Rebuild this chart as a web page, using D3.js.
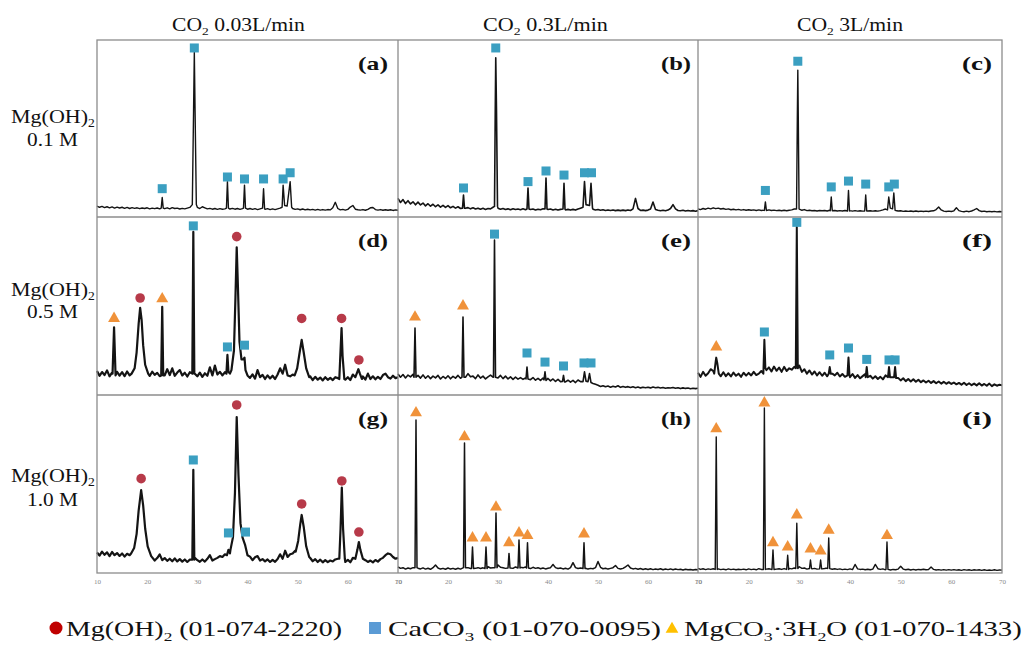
<!DOCTYPE html>
<html>
<head>
<meta charset="utf-8">
<script src="https://cdn.jsdelivr.net/npm/d3@7"></script>
<style>
body { margin: 0; background: #fff; }
svg text { font-family: "Liberation Serif", "Times New Roman", Times, serif; }
</style>
</head>
<body>
<svg id="chart" width="1027" height="645"></svg>
<script>
// ---- labels ----
const colTitles = ["0.03L/min", "0.3L/min", "3L/min"];
const rowConc = ["0.1 M", "0.5 M", "1.0 M"];
const panelTags = ["(a)", "(b)", "(c)", "(d)", "(e)", "(f)", "(g)", "(h)", "(i)"];
const xTicks = [10, 20, 30, 40, 50, 60, 70];
const legendCodes = ["(01-074-2220)", "(01-070-0095)", "(01-070-1433)"];

// ---- background traces: intensity (% of panel height) every 0.5 deg from 10 to 70 ----
const bgStart = 10, bgStep = 0.5;
const bgA = [6.2,5.5,6.0,5.3,5.8,5.2,5.7,5.0,5.6,5.1, 5.5,4.9,5.4,4.8,5.3,4.9,5.2,4.7,5.1,4.8,
  5.2,4.6,5.0,4.7,5.1,4.6,5.0,4.7,5.2,4.6, 5.3,4.8,5.0,4.5,4.9,4.6,5.0,5.4,6.0,6.5,
  5.5,4.8,5.8,5.2,4.6,4.9,4.4,4.8,4.3,4.7, 4.4,4.6,4.8,4.5,4.9,4.4,4.8,4.3,4.7,4.8,
  4.4,4.8,4.3,4.7,4.2,4.6,4.6,4.3,4.7,4.2, 4.6,4.2,4.6,5.0,5.5,6.5,6.0,5.5,4.8,4.3,
  4.6,4.1,4.5,4.0,4.4,4.0,4.3,3.9,4.3,3.9, 4.2,3.9,4.2,4.0,5.2,8.3,4.8,4.0,4.3,3.9,
  4.3,5.6,6.5,4.4,4.1,3.9,4.2,3.8,4.3,5.2, 5.4,4.2,3.9,4.2,3.8,4.1,3.8,4.1,3.7,4.0, 3.8];
const bgB = [10.5,8.2,9.8,7.6,9.2,7.4,8.6,6.9,8.4,6.8, 7.9,6.3,7.5,6.1,7.2,5.8,6.9,5.6,6.6,5.4,
  6.4,5.2,6.0,5.0,5.8,4.8,5.5,4.9,5.3,4.6, 5.2,4.5,5.0,4.4,4.9,4.3,4.8,4.6,5.5,6.0,
  5.0,4.4,4.8,4.2,4.6,4.1,4.7,4.2,4.5,4.1, 4.6,4.1,4.6,4.2,4.5,4.0,4.4,4.1,4.6,4.3,
  4.2,4.5,4.0,4.4,3.9,4.3,4.5,4.0,4.3,3.9, 4.3,3.9,4.5,5.0,5.5,6.0,5.8,5.0,4.4,4.0,
  4.2,3.8,4.1,3.7,4.0,3.7,4.0,3.6,3.9,3.6, 3.9,3.6,4.0,3.7,4.6,10.5,4.8,3.7,3.9,3.6,
  3.9,4.5,8.5,4.2,3.8,3.5,3.8,3.5,3.9,4.8, 7.0,4.6,3.7,3.5,3.8,3.4,3.7,3.4,3.6,3.3, 3.6];
const bgC = [4.6,4.2,4.8,4.4,5.0,4.6,5.2,4.7,5.0,4.5, 4.8,4.3,4.6,4.1,4.4,4.0,4.3,3.9,4.2,3.8,
  4.1,3.8,4.0,3.7,4.0,3.7,3.9,3.6,4.0,3.7, 3.9,3.6,3.8,3.5,3.8,3.5,3.8,4.0,4.5,5.0,
  4.5,3.8,4.2,3.6,3.8,3.5,3.7,3.4,3.7,3.5, 3.7,3.4,3.8,3.5,3.7,3.4,3.6,3.4,3.7,3.5,
  3.6,3.3,3.6,3.3,3.5,3.3,3.6,3.4,3.5,3.3, 3.5,3.3,3.6,4.0,4.5,4.8,4.6,4.2,3.7,3.4,
  3.5,3.2,3.4,3.2,3.4,3.1,3.4,3.1,3.3,3.1, 3.3,3.1,3.4,3.5,4.2,5.6,4.0,3.3,3.1,3.3,
  3.1,3.5,5.2,3.6,3.2,3.0,3.3,3.0,3.4,4.0, 4.8,3.6,3.1,3.3,3.0,3.2,3.0,3.2,2.9,3.1, 3.0];
const bgD = [13.5,10.8,12.9,11.2,13.8,10.5,12.6,14.0,13.0,10.9, 12.8,10.6,13.2,11.0,12.5,13.5,14.5,13.0,12.0,11.5,
  12.9,10.7,13.1,11.3,12.4,10.6,13.0,11.0,14.5,11.2, 15.0,10.8,12.6,14.0,11.0,12.5,10.4,12.8,11.2,12.0,
  10.5,12.6,10.2,12.2,10.8,15.5,11.0,16.5,11.5,13.0, 11.0,12.8,13.5,12.0,14.0,15.0,13.0,12.5,11.0,10.2,
  12.0,9.6,11.6,9.2,14.0,10.0,11.3,9.0,11.0,9.3, 10.8,9.0,11.5,15.0,12.0,17.0,11.0,10.5,11.5,12.5,
  14.0,13.5,11.5,10.2,9.0,10.5,8.4,10.2,8.6,9.8, 8.2,10.0,8.5,9.6,8.4,10.0,9.5,9.0,10.2,8.6,
  10.0,8.4,11.5,12.0,10.0,8.8,10.4,8.6,12.0,9.0, 10.5,8.8,10.2,9.0,11.2,12.0,10.0,9.2,10.8,9.5, 10.0];
const bgE = [11.8,10.0,11.5,9.6,11.2,10.2,11.6,9.8,11.0,9.5, 11.3,9.4,10.8,9.2,10.6,9.6,11.0,9.0,10.4,9.3,
  10.8,9.1,10.5,9.5,11.0,9.4,11.2,10.0,12.0,10.2, 10.6,9.2,11.3,9.5,10.6,9.0,10.2,11.2,10.0,10.8,
  9.6,11.0,9.2,10.6,9.0,10.2,8.8,10.0,8.9,9.8, 8.8,9.5,10.0,8.6,9.8,8.3,9.4,8.2,9.5,8.6,
  9.3,7.9,9.0,7.6,8.8,7.5,8.6,7.4,8.3,7.2, 8.2,7.0,8.4,7.5,8.0,8.5,7.5,7.0,6.5,6.0,
  5.5,4.8,5.2,4.6,5.0,4.4,4.9,4.5,5.2,4.3, 4.8,4.3,4.7,4.2,4.6,4.1,4.5,4.0,4.4,4.1,
  4.4,4.0,4.5,4.1,4.3,3.9,4.2,3.8,4.1,3.9, 4.2,3.8,4.1,3.6,4.0,3.7,3.9,3.5,3.8,3.6, 3.8];
const bgF = [12.5,10.2,13.0,10.8,12.2,14.5,13.5,11.0,12.4,10.5, 12.8,10.6,12.2,10.4,12.6,10.8,12.0,10.2,12.5,10.9,
  12.4,11.0,13.0,11.2,12.0,13.5,16.5,14.0,15.5,13.2, 16.0,13.6,15.4,13.0,15.8,13.5,15.0,14.2,15.8,14.5,
  16.5,13.0,14.5,12.0,13.8,11.5,13.2,11.0,12.8,10.8, 12.5,10.5,12.8,12.0,11.0,12.5,10.4,11.8,10.2,11.5,
  10.0,11.8,9.6,11.2,9.4,10.6,11.8,9.6,10.8,9.2, 10.5,9.0,10.2,8.8,11.0,10.5,9.2,10.4,8.5,9.6,
  8.2,9.4,7.8,9.0,7.6,8.8,7.4,8.6,7.2,8.2, 7.0,8.0,6.8,7.8,6.6,7.6,6.4,7.4,6.3,7.2,
  6.2,7.0,6.0,6.8,5.8,6.9,5.6,6.6,5.5,6.4, 5.4,6.6,5.3,6.2,5.2,6.4,5.0,6.0,5.2,5.8, 5.4];
const bgG = [11.5,9.8,12.0,10.2,11.6,9.5,11.8,10.0,11.2,9.6, 11.0,9.2,10.8,10.0,11.5,12.0,13.0,12.5,11.0,10.0,
  9.2,7.5,8.8,7.0,8.4,10.5,7.2,8.4,6.8,8.0, 6.6,8.2,6.5,7.8,6.4,7.6,6.2,7.5,6.8,8.5,
  7.2,6.3,7.6,6.4,8.0,10.0,7.0,7.8,8.5,9.5, 9.0,10.5,12.0,13.0,14.0,15.0,14.0,12.0,11.0,9.5,
  8.0,9.2,7.2,8.8,9.5,7.0,7.8,6.5,7.6,6.2, 7.4,6.3,7.8,10.5,8.0,12.5,9.0,10.5,11.0,12.5,
  13.5,13.0,11.5,9.0,7.5,8.4,6.6,7.8,6.2,7.5, 6.0,7.2,6.1,7.0,6.5,7.6,8.0,8.2,7.0,6.2,
  7.4,6.0,8.5,9.5,8.5,7.0,6.0,7.2,6.2,7.0, 6.0,7.3,6.4,7.8,8.5,10.0,11.0,10.5,9.0,8.0, 8.5];
const bgH = [3.5,2.6,3.0,2.2,2.8,2.4,3.0,2.2,2.7,2.3, 2.9,2.2,2.7,2.1,3.0,4.5,2.8,2.2,2.6,2.1,
  2.8,2.2,2.6,2.1,2.7,2.2,2.9,2.4,3.0,2.5, 3.2,2.6,3.0,2.5,2.9,3.2,3.5,2.8,3.0,3.6,
  4.5,3.2,3.0,2.6,3.0,2.8,2.6,3.4,2.8,3.2, 2.9,3.4,3.0,2.5,3.2,2.6,3.0,2.4,2.8,2.3,
  2.7,3.0,4.8,3.0,2.5,2.8,2.3,2.7,2.2,3.0, 5.8,3.0,2.5,2.8,2.3,2.7,2.2,2.6,2.4,3.0,
  6.5,3.2,2.4,2.7,2.2,2.6,3.0,4.2,2.6,2.2, 2.6,3.5,4.5,2.8,2.3,2.6,2.1,2.5,2.0,2.4,
  2.0,2.4,1.9,2.3,2.0,2.4,1.8,2.2,1.9,2.3, 1.8,2.2,1.9,2.1,1.7,2.1,1.8,2.0,1.7,2.0, 1.8];
const bgI = [2.6,2.0,2.4,1.9,2.3,2.0,2.4,1.8,2.3,1.9, 2.2,1.8,2.3,1.9,2.2,1.8,2.1,1.9,2.2,1.8,
  2.3,1.9,2.2,1.8,2.4,2.0,2.5,2.2,2.4,2.0, 2.6,2.2,2.4,2.0,2.5,2.2,2.6,2.3,2.8,3.0,
  3.5,2.6,2.8,2.2,2.7,2.3,2.6,2.2,2.6,2.3, 2.5,2.8,2.4,2.1,2.4,2.0,2.3,1.9,2.2,1.9,
  2.3,1.9,4.8,2.3,2.0,2.2,1.8,2.1,1.8,2.2, 4.8,2.4,2.0,2.3,1.8,2.1,1.7,2.0,1.8,2.2,
  3.8,2.2,1.8,2.1,1.7,2.0,1.7,2.0,1.8,2.1, 1.8,2.0,3.4,2.0,1.7,1.9,1.6,1.9,1.6,1.9,
  1.6,1.9,1.6,1.8,1.5,1.9,1.6,1.8,1.5,1.8, 1.6,1.8,1.5,1.8,1.5,1.7,1.5,1.8,1.5,1.7, 1.6];

// ---- peaks: vertex lists [2theta, intensity %] ----
const pkA = [
  [[22.8,5],[23.0,11],[23.2,5]],
  [[29.0,7],[29.25,60],[29.4,93],[29.55,60],[29.8,7]],
  [[35.8,5],[36.0,20],[36.2,5]],
  [[39.2,5],[39.4,18],[39.6,5]],
  [[43.0,5],[43.2,16],[43.4,5]],
  [[46.9,5.5],[47.1,18],[47.4,6.5],[47.9,6.2],[48.5,20],[48.8,5.5]]
];
const pkB = [
  [[22.9,5],[23.1,12.4],[23.3,5]],
  [[29.3,6],[29.45,60],[29.55,90],[29.7,60],[29.9,6]],
  [[35.8,4.5],[36.0,16.4],[36.2,4.5]],
  [[39.4,4.5],[39.6,22],[39.8,4.5]],
  [[43.0,4.5],[43.2,19],[43.4,4.5]],
  [[47.0,5.5],[47.3,20],[47.6,7],[48.3,6.5],[48.6,19],[48.9,5]]
];
const pkC = [
  [[23.1,3.7],[23.3,8.5],[23.5,3.7]],
  [[29.45,4.5],[29.6,55],[29.7,83],[29.8,55],[29.95,4.5]],
  [[36.1,3.5],[36.3,11.3],[36.5,3.5]],
  [[39.5,3.4],[39.7,15],[39.9,3.4]],
  [[42.9,3.4],[43.1,12.4],[43.3,3.4]],
  [[47.4,4],[47.65,11.3],[47.95,5],[48.4,4.6],[48.65,13.6],[48.9,3.8]]
];
const pkD = [
  [[13.1,12],[13.4,38],[13.7,11]],
  [[16.9,12],[17.5,15],[17.9,24],[18.3,40],[18.6,49],[18.9,42],[19.2,28],[19.6,17],[20.2,12]],
  [[22.8,11],[23.0,49.5],[23.2,11]],
  [[29.0,12],[29.2,91.6],[29.4,12]],
  [[35.8,12],[36.0,22.5],[36.2,13]],
  [[36.8,14],[37.3,25],[37.6,55],[37.85,83],[38.1,60],[38.4,30],[38.8,20],[39.2,20],[39.4,21],[39.6,14],[40.0,11]],
  [[49.4,11],[49.9,15],[50.4,24],[50.8,31],[51.2,24],[51.7,15],[52.3,10]],
  [[58.3,9],[58.55,25],[58.75,37.6],[58.95,22],[59.3,9]],
  [[61.5,10],[61.9,13],[62.1,14.5],[62.4,12],[62.8,9]]
];
const pkE = [
  [[13.2,10],[13.4,37.6],[13.6,10]],
  [[22.8,10],[23.0,43.8],[23.2,10]],
  [[29.1,10],[29.3,87],[29.5,10]],
  [[35.6,9],[35.8,15.7],[36.0,9]],
  [[39.2,8.5],[39.4,13],[39.6,8.2]],
  [[42.9,7.6],[43.1,11],[43.3,7.4]],
  [[47.0,7.5],[47.3,13],[47.6,7.8],[48.0,7.5],[48.3,12],[48.6,7]]
];
const pkF = [
  [[13.2,12],[13.5,19],[13.6,21],[13.8,18],[14.1,12]],
  [[22.9,12],[23.1,31],[23.3,15]],
  [[29.3,15],[29.5,94.4],[29.7,15]],
  [[35.8,12],[36.0,15.7],[36.2,12]],
  [[39.5,11],[39.7,21],[39.9,11]],
  [[43.1,10],[43.3,15.7],[43.5,10]],
  [[47.5,10],[47.7,15.7],[47.9,10],[48.7,10],[48.9,15.7],[49.1,9.5]]
];
const pkG = [
  [[16.8,11],[17.4,14],[17.9,22],[18.3,35],[18.8,46.6],[19.2,38],[19.6,25],[20.1,15],[20.8,9.5]],
  [[29.0,7.5],[29.2,58],[29.4,7.5]],
  [[35.9,10],[36.2,13],[36.5,11]],
  [[36.6,13],[37.1,20],[37.5,45],[37.85,87.6],[38.2,55],[38.6,28],[39.0,20],[39.5,16],[40.0,10]],
  [[49.6,12],[50.1,18],[50.5,27],[50.8,32.6],[51.2,26],[51.7,15],[52.3,9]],
  [[58.3,8],[58.55,25],[58.8,48],[59.05,25],[59.4,8]],
  [[61.5,8],[61.9,13],[62.2,17.4],[62.5,13],[63.0,8]]
];
const pkH = [
  [[13.4,3],[13.6,86],[13.8,3]],
  [[23.1,3],[23.3,73],[23.5,3]],
  [[24.7,2.5],[24.9,14.6],[25.1,2.5]],
  [[27.4,2.5],[27.6,14.6],[27.8,2.5]],
  [[29.4,3],[29.6,33.7],[29.8,3]],
  [[32.0,2.8],[32.2,11],[32.4,2.8]],
  [[34.0,2.8],[34.2,18.5],[34.4,2.8]],
  [[35.7,2.8],[35.9,17],[36.1,2.8]],
  [[47.0,2.5],[47.2,17],[47.4,2.5]]
];
const pkI = [
  [[13.4,2],[13.6,76.5],[13.8,2]],
  [[22.9,2],[23.1,92.7],[23.3,2]],
  [[24.6,2],[24.8,13],[25.0,2]],
  [[27.5,2],[27.7,10],[27.9,2]],
  [[29.3,2.5],[29.5,28],[29.7,2.5]],
  [[32.0,2.5],[32.2,7.3],[32.4,2.5]],
  [[34.0,2.3],[34.2,7.3],[34.4,2.3]],
  [[35.6,2.5],[35.8,19.7],[36.0,2.5]],
  [[47.1,2],[47.3,17.4],[47.5,2]]
];

// ---- phase markers [2theta, intensity %] ----
// sq = CaCO3, ci = Mg(OH)2, tr = MgCO3.3H2O
const sqA = [[23.0,16],[29.4,95.5],[36.0,22.6],[39.4,21.5],[43.2,21.5],[47.1,21.5],[48.5,25]];
const sqB = [[23.1,16.4],[29.55,95.5],[36.0,20],[39.6,26],[43.2,23.7],[47.3,25],[48.7,25]];
const sqC = [[23.3,15],[29.7,88],[36.3,17],[39.7,20.3],[43.1,18.6],[47.65,17],[48.75,18.6]];
const ciD = [[18.6,54.5],[37.85,89],[50.8,43],[58.75,43],[62.2,19.7]];
const sqD = [[29.2,95],[36.0,27],[39.4,28]];
const trD = [[13.4,43],[23.0,54]];
const trE = [[13.4,43.8],[23.0,50]];
const sqE = [[29.3,90.4],[35.8,23.6],[39.4,18.5],[43.1,16.3],[47.2,18],[48.6,18]];
const trF = [[13.6,27]];
const sqF = [[23.1,35.4],[29.5,97],[36.0,22.5],[39.7,26.4],[43.3,20],[47.7,19.7],[48.9,19.7]];
const ciG = [[18.8,53],[37.85,94.4],[50.8,38.8],[58.8,51.7],[62.2,23]];
const sqG = [[29.2,63.5],[36.2,22.5],[39.6,23]];
const trH = [[13.6,90],[23.3,76.5],[24.9,19.7],[27.6,19.7],[29.6,37],[32.2,17],[34.2,22.5],[35.9,21],[47.2,21.9]];
const trI = [[13.6,81],[23.1,95.5],[24.8,17],[27.7,14.6],[29.5,32.6],[32.2,13.5],[34.2,12.4],[35.8,24],[47.3,21]];

// ---- layout ----
const colBounds = [[97, 398], [398, 698], [698, 1002]];
const rowBounds = [[40, 217], [217, 395], [395, 573]];
const tagRight = [388, 691, 992];

const C_SQ = "#3b9fc1", C_CI = "#b73a49", C_TR = "#f0923a";

const panels = [
  {bg: bgA, pk: pkA, sq: sqA, ci: [], tr: [], w: 1.4},
  {bg: bgB, pk: pkB, sq: sqB, ci: [], tr: [], w: 1.6},
  {bg: bgC, pk: pkC, sq: sqC, ci: [], tr: [], w: 1.4},
  {bg: bgD, pk: pkD, sq: sqD, ci: ciD, tr: trD, w: 2.2},
  {bg: bgE, pk: pkE, sq: sqE, ci: [], tr: trE, w: 1.6},
  {bg: bgF, pk: pkF, sq: sqF, ci: [], tr: trF, w: 2.0},
  {bg: bgG, pk: pkG, sq: sqG, ci: ciG, tr: [], w: 2.2},
  {bg: bgH, pk: pkH, sq: [], ci: [], tr: trH, w: 1.5},
  {bg: bgI, pk: pkI, sq: [], ci: [], tr: trI, w: 1.4}
];

const svg = d3.select("#chart");

// text with subscripts, parts = [[text, isSub], ...]
function rich(parent, parts, size, sub) {
  const t = parent.append("text").attr("font-size", size).attr("fill", "#111");
  let down = false;
  parts.forEach(function(p) {
    const ts = t.append("tspan").text(p[0]);
    if (p[1]) { ts.attr("font-size", size * 0.62).attr("dy", sub); down = true; }
    else if (down) { ts.attr("dy", -sub); down = false; }
  });
  return t;
}
// squeeze/stretch a text horizontally so it spans x0..x1
function fit(t, x0, x1, yBase) {
  const w = t.node().getBBox().width;
  t.attr("transform", `translate(${x0},${yBase}) scale(${(x1 - x0) / w},1)`);
}

// ---- panels ----
const line = d3.line().curve(d3.curveLinear);

panels.forEach(function(p, k) {
  const r = Math.floor(k / 3), c = k % 3;
  const x = d3.scaleLinear().domain([10, 70]).range(colBounds[c]);
  const y = d3.scaleLinear().domain([0, 100]).range([rowBounds[r][1], rowBounds[r][0]]);
  const g = svg.append("g");

  line.x(d => x(d[0])).y(d => y(d[1]));

  // one trace: background samples outside the peak windows + the peak vertices
  const windows = p.pk.map(v => [v[0][0], v[v.length - 1][0]]);
  const trace = p.bg.map((v, i) => [bgStart + i * bgStep, v])
    .filter(d => !windows.some(w => d[0] >= w[0] && d[0] <= w[1]))
    .concat(...p.pk)
    .sort((a, b) => a[0] - b[0]);

  g.append("path").attr("d", line(trace))
    .attr("fill", "none").attr("stroke", "#141414")
    .attr("stroke-width", p.w).attr("stroke-linejoin", "round");

  g.selectAll("rect.sq").data(p.sq).enter().append("rect")
    .attr("class", "sq")
    .attr("x", d => x(d[0]) - 4.5).attr("y", d => y(d[1]) - 4.5)
    .attr("width", 9).attr("height", 9).attr("fill", C_SQ);

  g.selectAll("circle.ci").data(p.ci).enter().append("circle")
    .attr("class", "ci")
    .attr("cx", d => x(d[0])).attr("cy", d => y(d[1]))
    .attr("r", 4.8).attr("fill", C_CI);

  g.selectAll("path.tr").data(p.tr).enter().append("path")
    .attr("class", "tr")
    .attr("d", d3.symbol().type(d3.symbolTriangle).size(62))
    .attr("transform", d => `translate(${x(d[0])},${y(d[1])})`)
    .attr("fill", C_TR);

  const tag = svg.append("text")
    .attr("font-size", 18).attr("font-weight", "bold").attr("fill", "#111")
    .text(panelTags[k]);
  fit(tag, tagRight[c] - 30, tagRight[c], rowBounds[r][0] + 30);

  if (r === 2) {
    svg.append("g")
      .attr("transform", `translate(0,${rowBounds[2][1]})`)
      .call(d3.axisBottom(x).tickValues(xTicks).tickSize(0).tickPadding(6))
      .call(a => a.select(".domain").remove())
      .selectAll("text")
      .attr("font-size", 7).attr("fill", "#8a8a8a");
  }
});

// ---- frame ----
const frame = svg.append("g").attr("stroke", "#8c8c8c").attr("stroke-width", 1.3).attr("fill", "none");
frame.append("rect")
  .attr("x", colBounds[0][0]).attr("y", rowBounds[0][0])
  .attr("width", colBounds[2][1] - colBounds[0][0])
  .attr("height", rowBounds[2][1] - rowBounds[0][0]);
[colBounds[1][0], colBounds[2][0]].forEach(function(v) {
  frame.append("line").attr("x1", v).attr("x2", v)
    .attr("y1", rowBounds[0][0]).attr("y2", rowBounds[2][1]);
});
[rowBounds[1][0], rowBounds[2][0]].forEach(function(v) {
  frame.append("line").attr("y1", v).attr("y2", v)
    .attr("x1", colBounds[0][0]).attr("x2", colBounds[2][1]);
});

// ---- column titles ----
const titleSpan = [[172, 305], [483, 608], [797, 903]];
colTitles.forEach(function(s, i) {
  const t = rich(svg, [["CO", false], ["2", true], [" " + s, false]], 18, 4);
  fit(t, titleSpan[i][0], titleSpan[i][1], 31);
});

// ---- row labels ----
const rowBase = [[123, 146], [296, 318], [482, 506]];
rowConc.forEach(function(s, i) {
  const t1 = rich(svg, [["Mg(OH)", false], ["2", true]], 19, 4);
  fit(t1, 11, 95, rowBase[i][0]);
  const t2 = svg.append("text").attr("font-size", 19).attr("fill", "#111").text(s);
  fit(t2, 27, 78, rowBase[i][1]);
});

// ---- legend ----
svg.append("circle").attr("cx", 56).attr("cy", 628).attr("r", 6.5).attr("fill", "#c00000");
svg.append("rect").attr("x", 369).attr("y", 622).attr("width", 12).attr("height", 12).attr("fill", "#5b9bd5");
svg.append("path").attr("d", d3.symbol().type(d3.symbolTriangle).size(70))
  .attr("transform", "translate(672,629)").attr("fill", "#ffc000");

const lg1 = rich(svg, [["Mg(OH)", false], ["2", true], [" " + legendCodes[0], false]], 21, 5);
fit(lg1, 66, 342, 636);
const lg2 = rich(svg, [["CaCO", false], ["3", true], [" " + legendCodes[1], false]], 21, 5);
fit(lg2, 388, 661, 636);
const lg3 = rich(svg, [["MgCO", false], ["3", true], ["\u00b73H", false], ["2", true], ["O " + legendCodes[2], false]], 21, 5);
fit(lg3, 684, 1022, 636);
</script>
</body>
</html>
